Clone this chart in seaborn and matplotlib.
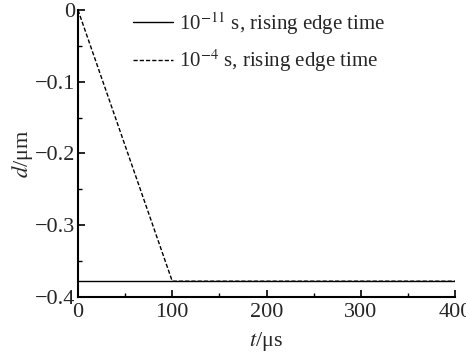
import matplotlib
matplotlib.use("Agg")
import matplotlib.pyplot as plt
import seaborn as sns
import pandas as pd
from matplotlib.ticker import MultipleLocator

sns.set_theme(style="ticks")
plt.rcParams['font.family'] = ['Liberation Serif', 'DejaVu Serif']
plt.rcParams['mathtext.fontset'] = 'stix'
plt.rcParams['axes.unicode_minus'] = True

# data
t_fast = [0, 400]
d_fast = [-0.378, -0.378]
t_slow = [0, 100, 400]
d_slow = [0.0, -0.378, -0.378]
label_fast = r"10$^{-11}$ s, rising edge time"
label_slow = r"10$^{-4}$ s, rising edge time"

df = pd.concat([
    pd.DataFrame({"t": t_fast, "d": d_fast, "s": label_fast}),
    pd.DataFrame({"t": t_slow, "d": d_slow, "s": label_slow}),
])

fig = plt.figure(figsize=(4.66, 3.53), dpi=100)
ax = fig.add_axes([78/466, 1-297/353, (455-78)/466, (297-10)/353])

sns.lineplot(data=df, x="t", y="d", hue="s", style="s",
             palette=["black", "black"], dashes=[(None, None), (3, 1.5)],
             linewidth=1.0, ax=ax, sort=False, estimator=None)

ax.set_xlim(0, 400)
ax.set_ylim(-0.4, 0)
ax.xaxis.set_major_locator(MultipleLocator(100))
ax.xaxis.set_minor_locator(MultipleLocator(50))
ax.yaxis.set_major_locator(MultipleLocator(0.1))
ax.yaxis.set_minor_locator(MultipleLocator(0.05))
ax.xaxis.set_major_formatter(matplotlib.ticker.FuncFormatter(lambda v, p: f"{v:g}"))
ax.yaxis.set_major_formatter(matplotlib.ticker.FuncFormatter(
    lambda v, p: "0" if abs(v) < 1e-9 else f"{v:.1f}".replace("-", "\u2212")))
ax.tick_params(which="major", direction="in", length=5, width=1.2, labelsize=16, color="black")
ax.tick_params(which="minor", direction="in", length=3, width=1.0, color="black")
ax.tick_params(axis="y", pad=2)
ax.tick_params(axis="x", pad=4)
for s in ["top", "right"]:
    ax.spines[s].set_visible(False)
for s in ["left", "bottom"]:
    ax.spines[s].set_linewidth(1.5)
    ax.spines[s].set_color("black")

ax.set_xlabel(r"$t$/μs", fontsize=16, labelpad=6)
ax.set_ylabel(r"$d$/μm", fontsize=16, labelpad=0)

leg = ax.legend(loc="upper left", frameon=False, fontsize=15,
                handlelength=1.9, handletextpad=0.3, borderaxespad=0.0,
                borderpad=0.0, labelspacing=0.5,
                bbox_to_anchor=(133/466, 1-10/353), bbox_transform=fig.transFigure)
for h in leg.get_lines():
    h.set_linewidth(1.0)

fig.savefig("out.png", dpi=100)
